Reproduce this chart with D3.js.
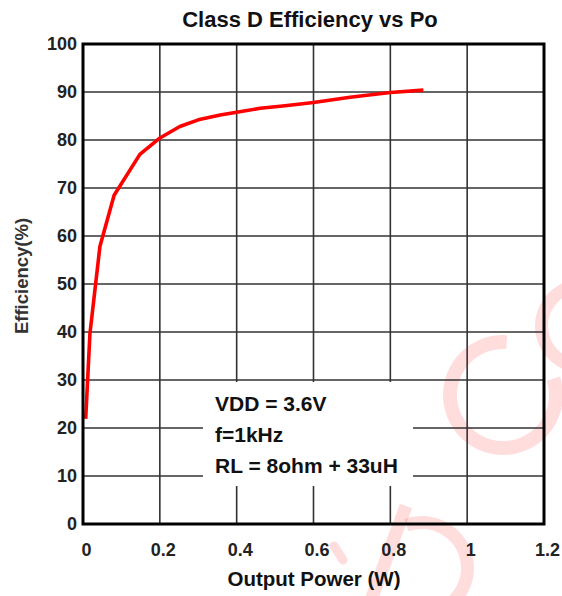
<!DOCTYPE html>
<html>
<head>
<meta charset="utf-8">
<script src="https://cdn.jsdelivr.net/npm/d3@7"></script>
<style>
  html, body { margin: 0; padding: 0; background: #fff; }
  svg { display: block; font-family: "Liberation Sans", Arial, sans-serif; }
</style>
</head>
<body>
<svg id="chart" width="562" height="596"></svg>
<script>
// ---- data ----
const outputPower = [0.007, 0.018, 0.044, 0.081, 0.148, 0.198, 0.252, 0.30, 0.357, 0.40, 0.461, 0.52, 0.60, 0.695, 0.80, 0.886];
const efficiency  = [21.9, 39.6, 57.8, 68.5, 77.0, 80.3, 82.8, 84.2, 85.2, 85.8, 86.6, 87.1, 87.8, 88.9, 89.9, 90.4];
const xTicks = [0, 0.2, 0.4, 0.6, 0.8, 1, 1.2];
const yTicks = [0, 10, 20, 30, 40, 50, 60, 70, 80, 90, 100];
const titleText = "Class D Efficiency vs Po";
const xTitle = "Output Power (W)";
const yTitle = "Efficiency(%)";
const noteLines = ["VDD = 3.6V", "f=1kHz", "RL = 8ohm + 33uH"];

// ---- layout ----
const svg = d3.select("#chart");
const L = 83, R = 544, T = 44, B = 524;
const x = d3.scaleLinear().domain([0, 1.2]).range([L, R]);
const y = d3.scaleLinear().domain([0, 100]).range([B, T]);

// watermark (faint pink)
const wmColor = "rgba(255,30,30,0.15)";
const wm = svg.append("g").attr("fill", wmColor);
const arc = d3.arc();
const deg = Math.PI / 180;
wm.append("path").attr("transform", "translate(503,395)")
  .attr("d", arc({innerRadius: 46, outerRadius: 60, startAngle: 72 * deg, endAngle: 364 * deg}));
wm.append("path").attr("transform", "translate(582,326)")
  .attr("d", arc({innerRadius: 34, outerRadius: 47, startAngle: 200 * deg, endAngle: 340 * deg}));
wm.append("path").attr("transform", "translate(422,568)")
  .attr("d", arc({innerRadius: 39, outerRadius: 52, startAngle: -20 * deg, endAngle: 170 * deg}));
wm.append("line").attr("x1", 406).attr("y1", 506).attr("x2", 371).attr("y2", 600)
  .attr("stroke", wmColor).attr("stroke-width", 13);
wm.append("line").attr("x1", 334).attr("y1", 546).attr("x2", 343).attr("y2", 560)
  .attr("stroke", wmColor).attr("stroke-width", 9).attr("stroke-linecap", "round");

// grid
const grid = svg.append("g").attr("stroke", "#333").attr("stroke-width", 1.6);
grid.selectAll("line.v").data(xTicks.slice(1, -1)).join("line")
  .attr("x1", d => x(d)).attr("x2", d => x(d)).attr("y1", T).attr("y2", B);
grid.selectAll("line.h").data(yTicks.slice(1, -1)).join("line")
  .attr("x1", L).attr("x2", R).attr("y1", d => y(d)).attr("y2", d => y(d));

// note box (white patch over grid)
svg.append("rect").attr("x", 203).attr("y", 382).attr("width", 210).attr("height", 104).attr("fill", "#fff");
svg.append("g").selectAll("text").data(noteLines).join("text")
  .attr("x", 215).attr("y", (d, i) => 411 + i * 31)
  .attr("font-size", 21).attr("font-weight", "bold").attr("fill", "#111")
  .text(d => d);

// curve
svg.append("path")
  .datum(outputPower.map((p, i) => [p, efficiency[i]]))
  .attr("fill", "none").attr("stroke", "#ff0000").attr("stroke-width", 3.6)
  .attr("stroke-linejoin", "round")
  .attr("d", d3.line().x(d => x(d[0])).y(d => y(d[1])));

// frame
svg.append("rect").attr("x", L).attr("y", T).attr("width", R - L).attr("height", B - T)
  .attr("fill", "none").attr("stroke", "#000").attr("stroke-width", 3);

// axes
const xAxis = svg.append("g").attr("transform", `translate(0,${B})`)
  .call(d3.axisBottom(x).tickValues(xTicks).tickSize(0).tickPadding(19).tickFormat(d3.format("")));
const yAxis = svg.append("g").attr("transform", `translate(${L},0)`)
  .call(d3.axisLeft(y).tickValues(yTicks).tickSize(0).tickPadding(6));
[xAxis, yAxis].forEach(a => {
  a.select(".domain").remove();
  a.selectAll("text").attr("font-size", 18).attr("font-weight", "bold").attr("fill", "#222")
    .attr("font-family", "Liberation Sans, Arial, sans-serif");
});
xAxis.selectAll("text").attr("dx", 3);

// titles
svg.append("text").attr("x", 310).attr("y", 27).attr("text-anchor", "middle")
  .attr("font-size", 22).attr("font-weight", "bold").attr("fill", "#111").text(titleText);
svg.append("text").attr("x", 314).attr("y", 586).attr("text-anchor", "middle")
  .attr("font-size", 20.5).attr("font-weight", "bold").attr("fill", "#111").text(xTitle);
svg.append("text").attr("transform", "translate(28,276) rotate(-90)").attr("text-anchor", "middle")
  .attr("font-size", 18.5).attr("font-weight", "bold").attr("fill", "#333").text(yTitle);
</script>
</body>
</html>
